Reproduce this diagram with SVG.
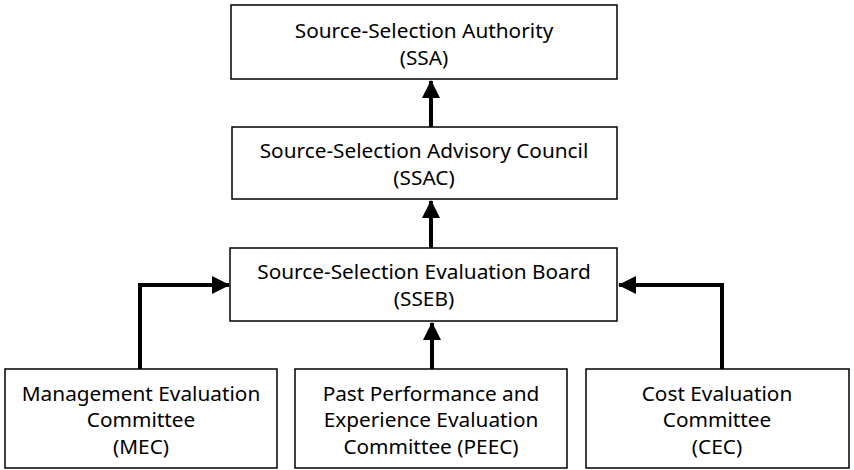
<svg xmlns="http://www.w3.org/2000/svg" width="854" height="470" viewBox="0 0 854 470">
<style>
.box{fill:#fff;stroke:#000;stroke-width:1.5}
.t{font-family:"Noto Sans","Open Sans",sans-serif;font-size:20.8px;fill:#000;text-anchor:middle}
.c{fill:none;stroke:#000;stroke-width:4}
</style>
<defs>
<marker id="ah" markerWidth="18" markerHeight="18" viewBox="0 0 18 18" refX="17" refY="9" orient="auto" markerUnits="userSpaceOnUse">
<path d="M0,0 L18,9 L0,18 Z" fill="#000"/>
</marker>
</defs>
<g id="connectors">
<path class="c" d="M431,127 V81" marker-end="url(#ah)"/>
<path class="c" d="M431,248 V201" marker-end="url(#ah)"/>
<path class="c" d="M432,369 V323" marker-end="url(#ah)"/>
<path class="c" d="M140,369 V285 H229" marker-end="url(#ah)"/>
<path class="c" d="M722,369 V285 H619" marker-end="url(#ah)"/>
</g>
<g id="ssa">
<rect class="box" x="231" y="5" width="386" height="74"/>
<text class="t" x="424" y="38">Source-Selection Authority</text>
<text class="t" x="424" y="65">(SSA)</text>
</g>
<g id="ssac">
<rect class="box" x="232" y="127" width="385" height="72"/>
<text class="t" x="424" y="158">Source-Selection Advisory Council</text>
<text class="t" x="424" y="185">(SSAC)</text>
</g>
<g id="sseb">
<rect class="box" x="230" y="248" width="387" height="73"/>
<text class="t" x="424" y="279">Source-Selection Evaluation Board</text>
<text class="t" x="424" y="306">(SSEB)</text>
</g>
<g id="mec">
<rect class="box" x="5" y="369" width="272" height="99"/>
<text class="t" x="141" y="401">Management Evaluation</text>
<text class="t" x="141" y="427">Committee</text>
<text class="t" x="141" y="454">(MEC)</text>
</g>
<g id="peec">
<rect class="box" x="295" y="369" width="272" height="99"/>
<text class="t" x="431" y="401">Past Performance and</text>
<text class="t" x="431" y="427">Experience Evaluation</text>
<text class="t" x="431" y="454">Committee (PEEC)</text>
</g>
<g id="cec">
<rect class="box" x="586" y="369" width="263" height="99"/>
<text class="t" x="717" y="401">Cost Evaluation</text>
<text class="t" x="717" y="427">Committee</text>
<text class="t" x="717" y="454">(CEC)</text>
</g>
</svg>
